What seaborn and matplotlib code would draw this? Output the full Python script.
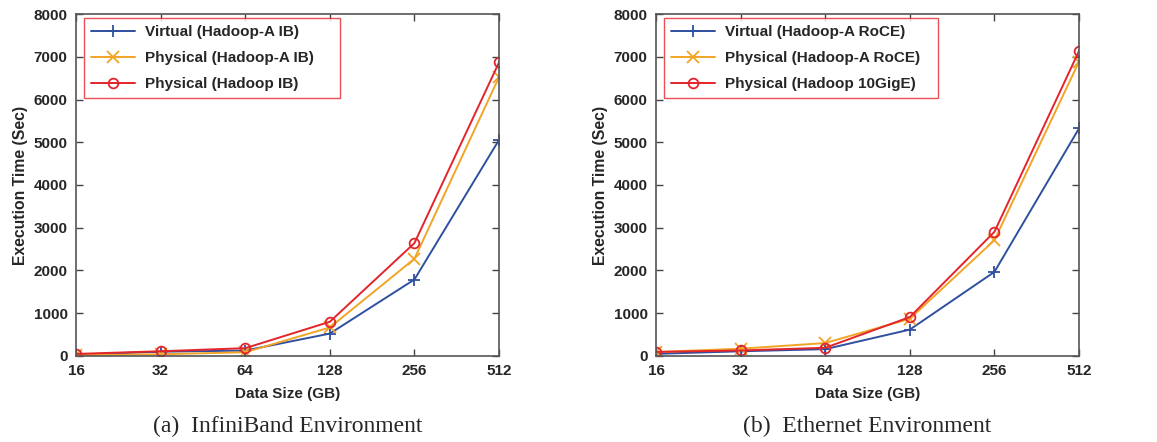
import numpy as np
import pandas as pd
import matplotlib
matplotlib.use("Agg")
import matplotlib.pyplot as plt
import seaborn as sns

# Data sizes (GB)
sizes = [16, 32, 64, 128, 256, 512]

# (a) InfiniBand environment, execution time in seconds
ib_virtual_hadoopa = [30, 100, 127, 524, 1789, 5055]
ib_physical_hadoopa = [20, 40, 87, 667, 2273, 6523]
ib_physical_hadoop = [48, 111, 183, 800, 2640, 6867]

# (b) Ethernet environment, execution time in seconds
eth_virtual_hadoopa = [50, 110, 160, 617, 1967, 5324]
eth_physical_hadoopa = [94, 170, 303, 870, 2709, 6885]
eth_physical_hadoop = [94, 130, 192, 910, 2904, 7135]

labels_a = ["Virtual (Hadoop-A IB)", "Physical (Hadoop-A IB)", "Physical (Hadoop IB)"]
labels_b = ["Virtual (Hadoop-A RoCE)", "Physical (Hadoop-A RoCE)", "Physical (Hadoop 10GigE)"]
captions = ["(a)  InfiniBand Environment", "(b)  Ethernet Environment"]

yticks = [0, 1000, 2000, 3000, 4000, 5000, 6000, 7000, 8000]

sns.set_style("ticks")
plt.rcParams["font.family"] = ["Liberation Sans", "DejaVu Sans"]

colors = ["#2f4f9f", "#f2a427", "#e3242b"]
markers = ["+", "x", "o"]

fig = plt.figure(figsize=(11.57, 4.42), dpi=100)
ax_a = fig.add_axes([0.0657, 0.1946, 0.3656, 0.7737])
ax_b = fig.add_axes([0.567, 0.1946, 0.3656, 0.7737])

panels = [
    (ax_a, [ib_virtual_hadoopa, ib_physical_hadoopa, ib_physical_hadoop], labels_a, captions[0], 0.605),
    (ax_b, [eth_virtual_hadoopa, eth_physical_hadoopa, eth_physical_hadoop], labels_b, captions[1], 0.648),
]

for ax, series, labels, caption, legend_w in panels:
    frames = []
    for vals, lab in zip(series, labels):
        frames.append(pd.DataFrame({"size": sizes, "time": vals, "series": lab}))
    df = pd.concat(frames, ignore_index=True)
    for i, lab in enumerate(labels):
        sub = df[df["series"] == lab]
        sns.lineplot(
            data=sub, x="size", y="time", ax=ax, color=colors[i],
            marker=markers[i], markersize=7 if markers[i] == "o" else 8,
            markerfacecolor="none" if markers[i] == "o" else colors[i],
            markeredgecolor=colors[i], markeredgewidth=1.3,
            linewidth=1.4, label=lab,
        )
    ax.set_xscale("log", base=2)
    ax.set_xlim(16, 512)
    ax.set_ylim(0, 8000)
    ax.set_xticks(sizes)
    ax.set_xticklabels([str(s) for s in sizes])
    ax.xaxis.set_minor_locator(matplotlib.ticker.NullLocator())
    ax.set_yticks(yticks)
    ax.set_yticklabels([str(t) for t in yticks])
    ax.tick_params(axis="both", direction="in", top=True, right=True,
                   length=5, width=1, labelsize=11, pad=6, color="#444444")
    for lbl in ax.get_xticklabels() + ax.get_yticklabels():
        lbl.set_fontweight("bold")
    for sp in ax.spines.values():
        sp.set_visible(True)
        sp.set_color("#555555")
        sp.set_linewidth(1.2)
    ax.set_xlabel("Data Size (GB)", fontsize=11, fontweight="bold", labelpad=6)
    ax.set_ylabel("Execution Time (Sec)", fontsize=11.3, fontweight="bold", labelpad=4)
    leg = ax.legend(loc="upper left", bbox_to_anchor=(0.019, 0.988, legend_w, 0.0),
                    mode="expand",
                    prop={"weight": "bold", "size": 11}, frameon=True, fancybox=False,
                    handlelength=2.9, handletextpad=0.65, borderpad=0.45,
                    labelspacing=0.8, borderaxespad=0.0)
    leg.get_frame().set_edgecolor("#e3242b")
    leg.get_frame().set_linewidth(1.0)
    bbox = ax.get_position()
    fig.text((bbox.x0 + bbox.x1) / 2, 1 - 426 / 442, caption, ha="center", va="center",
             fontsize=17, family=["Liberation Serif", "DejaVu Serif"])

fig.savefig("out.png", dpi=100)
